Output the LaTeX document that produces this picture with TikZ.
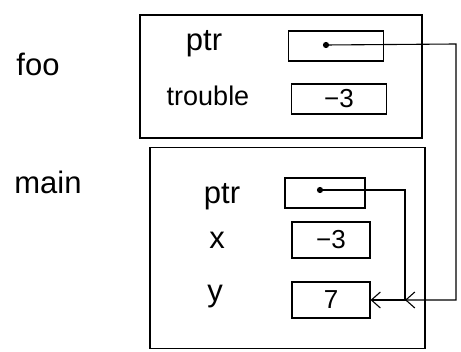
\documentclass[tikz,border=0pt]{standalone}
\usepackage{fontspec}
\setmainfont{Liberation Sans}
\usetikzlibrary{arrows.meta}
\begin{document}
\begin{tikzpicture}[x=1pt,y=-1pt, line width=1.1pt,
  lbl/.style={font=\fontsize{31}{34}\selectfont, inner sep=0pt},
  smalllbl/.style={font=\fontsize{27}{30}\selectfont, inner sep=0pt},
  cell/.style={draw, minimum width=#1, minimum height=30pt, inner sep=0pt, font=\fontsize{26}{30}\selectfont},
  cell/.default=95pt,
  frame/.style={draw, inner sep=0pt},
  ptrarrow/.style={-{Straight Barb[length=9pt,width=16pt]}},
  dotc/.style={circle, draw, fill, inner sep=0pt, minimum size=5pt}]
\useasboundingbox (0,0) rectangle (461,352);
% frames
\node[frame, minimum width=282pt, minimum height=123pt] (fooframe) at (281,76.5) {};
\node[frame, minimum width=275pt, minimum height=201pt] (mainframe) at (287.5,248) {};
% frame labels
\node[lbl] (foolbl) at (38,64) {foo};
\node[lbl] (mainlbl) at (48,182) {main};
% foo cells
\node[lbl] (fptrlbl) at (204,44) {ptr};
\node[smalllbl] (ftrlbl) at (208,96) {trouble};
\node[cell] (fptr) at (336,46) {};
\node[cell] (ftrouble) at (339,99) {−3};
\node[dotc] (fdot) at (326,45) {};
% main cells
\node[lbl] (mptrlbl) at (222,197) {ptr};
\node[lbl] (mxlbl) at (217,240) {x};
\node[lbl] (mylbl) at (215,297) {y};
\node[cell=80pt] (mptr) at (325,193) {};
\node[cell=78pt, minimum height=36pt] (mx) at (331,240) {−3};
\node[cell=78pt, minimum height=36pt] (my) at (331,300) {7};
\node[dotc] (mdot) at (320,190) {};
% connectors
\coordinate (c1) at (456,44);
\coordinate (c2) at (456,300);
\coordinate (c3) at (405,190);
\coordinate (c4) at (405,300);
\draw[ptrarrow] (fdot.center) -- (c1) -- (c2) -- (c4);
\draw[ptrarrow] (mdot.center) -- (c3) -- (c4) -- (my.east);
\end{tikzpicture}
\end{document}
